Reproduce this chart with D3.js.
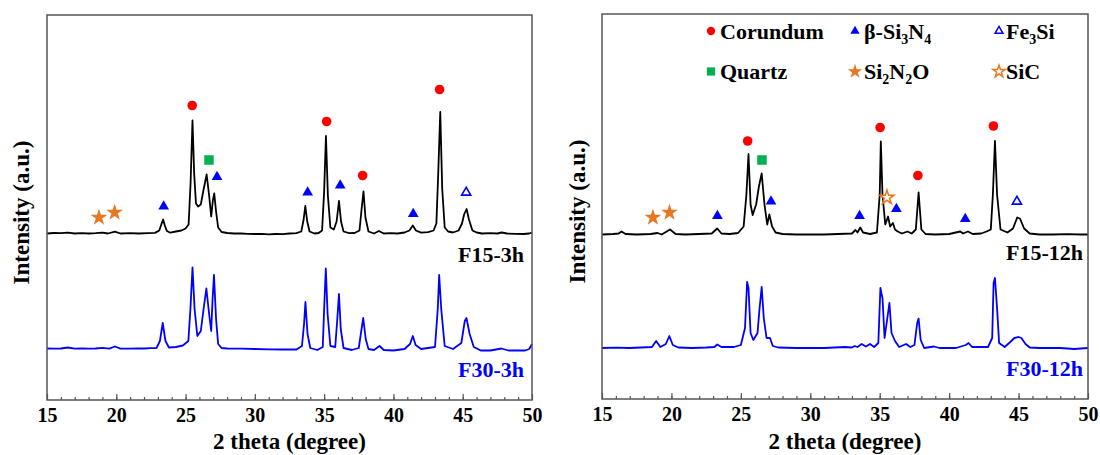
<!DOCTYPE html>
<html>
<head>
<meta charset="utf-8">
<script src="https://cdn.jsdelivr.net/npm/d3@7"></script>
<style>
  body { margin: 0; background: #fff; }
  svg text { font-family: "Liberation Serif", "Times New Roman", serif; font-weight: bold; }
</style>
</head>
<body>
<div id="chart"></div>
<script>
// x axis tick labels (2 theta, degree)
var thetaTicks = [15, 20, 25, 30, 35, 40, 45, 50];

// XRD patterns: [2theta, intensity above own baseline (a.u.)]
var f15_3h = [[15,0],[15.5,0.5],[16,0.3],[16.5,0.8],[17,0],[17.5,0.4],[18,0],[18.5,0.3],[19,0.8],[19.4,0],[19.9,1.8],[20.3,0],[21,0.4],[21.6,0],[22.3,0.3],[22.8,0.6],[23.1,3],[23.25,9],[23.38,14],[23.5,8],[23.65,2.5],[23.9,0.8],[24.3,2],[24.7,3],[25.0,5],[25.22,9],[25.36,50],[25.5,113],[25.62,60],[25.75,30],[25.9,27],[26.1,29],[26.3,44],[26.52,59],[26.7,38],[26.85,17],[26.97,33],[27.07,40],[27.2,22],[27.35,6],[27.6,1.5],[28,0.5],[28.5,0],[29,0],[29.5,-0.3],[30,-0.5],[30.5,-0.3],[31,-0.8],[31.5,-0.5],[32,-0.6],[32.5,0],[33,0.3],[33.35,2],[33.52,14],[33.64,27.5],[33.78,12],[33.95,2],[34.3,0],[34.6,0.5],[34.85,3],[35.0,42],[35.13,97.5],[35.27,38],[35.45,6],[35.7,4],[35.9,12],[36.07,32.5],[36.22,12],[36.4,2],[36.8,0.3],[37.2,0.5],[37.55,3],[37.7,24],[37.84,42],[37.98,16],[38.2,2],[38.6,0],[38.95,2.5],[39.3,0],[39.8,0.3],[40.3,0],[40.8,1],[41.15,3],[41.4,8],[41.62,3],[42,0.8],[42.5,1.3],[42.9,3],[43.1,10],[43.22,55],[43.38,121.5],[43.52,45],[43.7,6],[43.95,2],[44.3,1],[44.7,3],[44.95,10],[45.1,19],[45.28,24.5],[45.45,14],[45.7,3],[46,1],[46.4,0],[47,0.3],[47.5,0],[47.8,1],[48.2,0],[48.8,-0.3],[49.4,-0.5],[49.8,0],[50,1]];

var f30_3h = [[15,0.5],[15.5,0.3],[16,0.5],[16.5,1.5],[17,0.3],[17.5,0.5],[18,0.3],[18.5,0.5],[19,1.2],[19.5,0.3],[19.9,2.5],[20.3,0.3],[21,0.3],[21.5,0.6],[22,0.5],[22.5,0.8],[22.9,1],[23.15,8],[23.35,26],[23.55,8],[23.8,1.5],[24.3,2],[24.8,3.5],[25.2,8],[25.35,40],[25.5,81.5],[25.65,40],[25.85,13],[26.1,18],[26.3,40],[26.5,60.5],[26.7,35],[26.85,18],[26.95,50],[27.05,74],[27.2,30],[27.35,5],[27.6,1],[28,0.5],[29,0.3],[30,0],[31,-0.3],[32,-0.5],[33,-0.5],[33.4,3],[33.55,25],[33.65,47],[33.8,15],[34.0,1],[34.5,-1],[34.9,2],[35.0,40],[35.12,80.5],[35.25,35],[35.45,3],[35.8,2],[35.95,30],[36.07,55],[36.2,20],[36.4,1],[37,-1],[37.5,1],[37.7,20],[37.82,31],[38.0,10],[38.2,0],[38.6,-1],[39.0,3],[39.3,-1],[40,-1.5],[40.8,0],[41.2,5],[41.4,13],[41.6,4],[42,0],[42.5,1],[43,2],[43.2,40],[43.3,74],[43.45,40],[43.7,3],[44.3,0],[44.9,6],[45.15,28],[45.27,31],[45.5,15],[45.8,2],[46.3,-1.5],[47,-1.5],[47.8,0.5],[48.3,-1.5],[49.5,-1.5],[49.8,0],[50,5]];

var f15_12h = [[15,0],[15.8,0.5],[16.2,1],[16.4,3],[16.7,0.5],[17.5,0],[18.5,0.5],[19.0,1.5],[19.3,0],[19.9,5],[20.3,0.5],[21,0],[22,0.5],[22.9,1],[23.3,6],[23.6,1],[24.2,0.5],[24.8,1.5],[25.2,8],[25.4,40],[25.55,80.5],[25.7,30],[25.85,19.5],[26.1,30],[26.3,48],[26.5,61],[26.7,30],[26.9,10],[27.05,20],[27.25,8],[27.5,2],[28,0.5],[29,0],[30,0],[31,0],[32,0.5],[33,1],[33.25,4.5],[33.4,2],[33.6,7],[33.8,2],[34.3,0.5],[34.8,2],[35.0,40],[35.08,93],[35.2,40],[35.4,10],[35.6,18],[35.75,8],[35.95,11.5],[36.1,5],[36.3,3],[36.6,1],[37.0,3],[37.3,1],[37.6,5],[37.8,42],[38.0,5],[38.3,0.5],[39,0],[40,0.5],[40.8,3],[41.0,1],[41.35,3],[41.7,0.5],[42.3,1],[42.7,3],[43.0,5],[43.15,40],[43.3,93.5],[43.45,40],[43.7,5],[44.2,2],[44.6,6],[44.9,17],[45.1,16],[45.4,6],[45.8,1],[46.5,0],[47.5,0],[48.5,0.3],[49.5,0],[50,0]];

var f30_12h = [[15,0],[16,0.3],[17,0],[17.8,0.5],[18.6,1],[18.9,7],[19.2,1],[19.6,4],[19.85,12],[20.1,3],[20.5,0.5],[21.5,0],[22.5,0.5],[23.1,1],[23.3,3.5],[23.6,1],[24.5,1],[25.0,3],[25.3,20],[25.45,66],[25.55,60],[25.7,15],[25.9,8],[26.2,15],[26.35,40],[26.5,61],[26.65,30],[26.85,10],[27.1,10],[27.3,2],[27.7,0.5],[29,0],[31,0],[32.5,1],[33,0.5],[33.2,2],[33.4,1],[33.7,4],[34.0,1.5],[34.3,4],[34.6,1],[34.9,5],[35.05,60],[35.12,55],[35.2,50],[35.35,10],[35.55,30],[35.7,45],[35.85,15],[36.1,7],[36.4,1],[36.9,4],[37.2,1],[37.5,3],[37.7,25],[37.8,29.5],[37.95,8],[38.2,0],[38.9,1.5],[39.3,0],[40.5,0],[41.2,3],[41.4,5],[41.65,1],[42.3,1],[42.8,1],[43.1,10],[43.2,65],[43.3,70],[43.45,40],[43.6,5],[44.0,1],[44.4,6],[44.7,10],[45.0,11],[45.2,10],[45.5,4],[45.8,0.5],[46.5,0],[48,0],[49,-1],[50,0]];

// phase markers on the upper pattern: [phase, 2theta, height]
var marks3h = [["Si2N2O",18.75,16],["Si2N2O",19.88,21],["Si3N4",23.42,27],["Corundum",25.48,128],["Quartz",26.69,73.5],["Si3N4",27.27,56.5],["Si3N4",33.81,41],["Corundum",35.18,112],["Si3N4",36.16,48],["Corundum",37.78,58],["Si3N4",41.43,19.5],["Corundum",43.33,144],["Fe3Si",45.25,41]];
var marks12h = [["Si2N2O",18.67,17],["Si2N2O",19.86,22],["Si3N4",23.31,18.5],["Corundum",25.49,93.5],["Quartz",26.52,74.5],["Si3N4",27.17,33],["Si3N4",33.55,18.5],["Corundum",35.03,107],["SiC",35.52,37],["Si3N4",36.2,25.5],["Corundum",37.75,59],["Si3N4",41.16,15.5],["Corundum",43.19,108.5],["Fe3Si",44.88,33]];

// legend phases, labels as [text, isSubscript] parts
var legendPhases = ["Corundum", "Si3N4", "Fe3Si", "Quartz", "Si2N2O", "SiC"];
var legendLabels = [
  [["Corundum",0]],
  [["\u03b2-Si",0],["3",1],["N",0],["4",1]],
  [["Fe",0],["3",1],["Si",0]],
  [["Quartz",0]],
  [["Si",0],["2",1],["N",0],["2",1],["O",0]],
  [["SiC",0]]
];

var phaseStyle = {
  Corundum: {sym: d3.symbolCircle, size: 72, fill: "#ff0000", stroke: "none"},
  Si3N4:    {sym: d3.symbolTriangle, size: 50, fill: "#0000ff", stroke: "none"},
  Fe3Si:    {sym: d3.symbolTriangle, size: 36, fill: "#fff", stroke: "#0000ff"},
  Quartz:   {sym: d3.symbolSquare, size: 90, fill: "#00b050", stroke: "none"},
  Si2N2O:   {sym: d3.symbolStar, size: 88, fill: "#e87722", stroke: "none"},
  SiC:      {sym: d3.symbolStar, size: 62, fill: "#fff", stroke: "#e87722"}
};

var svg = d3.select("#chart").append("svg")
  .attr("width", 1100)
  .attr("height", 455);

var panels = [
  {left: 47, right: 532, top: 15, bottom: 400, series: [f15_3h, f30_3h], names: ["F15-3h", "F30-3h"],
   offsets: [166.5, 51], marks: marks3h, labelX: 524, labelY: [262, 377], ytitleX: 29},
  {left: 602, right: 1088, top: 14, bottom: 399, series: [f15_12h, f30_12h], names: ["F15-12h", "F30-12h"],
   offsets: [164.5, 51], marks: marks12h, labelX: 1083, labelY: [259.5, 376], ytitleX: 585}
];
var colors = ["#000", "#0000ff"];

panels.forEach(function(p, pi) {
  var x = d3.scaleLinear().domain([15, 50]).range([p.left, p.right]);
  var y = d3.scaleLinear().domain([0, p.bottom - p.top]).range([p.bottom, p.top]);
  var g = svg.append("g");

  // patterns
  p.series.forEach(function(s, i) {
    var line = d3.line()
      .x(function(d) { return x(d[0]); })
      .y(function(d) { return y(d[1] + p.offsets[i]); });
    g.append("path")
      .datum(s)
      .attr("d", line)
      .attr("fill", "none")
      .attr("stroke", colors[i])
      .attr("stroke-width", 1.8)
      .attr("stroke-linejoin", "round");

    g.append("text")
      .attr("x", p.labelX)
      .attr("y", p.labelY[i])
      .attr("text-anchor", "end")
      .attr("font-size", 22)
      .attr("fill", colors[i])
      .text(p.names[i]);
  });

  // phase markers
  g.selectAll(".mark")
    .data(p.marks)
    .enter()
    .append("path")
    .attr("d", function(d) { return d3.symbol().type(phaseStyle[d[0]].sym).size(phaseStyle[d[0]].size)(); })
    .attr("transform", function(d) { return "translate(" + x(d[1]) + "," + y(d[2] + p.offsets[0]) + ")"; })
    .attr("fill", function(d) { return phaseStyle[d[0]].fill; })
    .attr("stroke", function(d) { return phaseStyle[d[0]].stroke; })
    .attr("stroke-width", 1.6);

  // frame
  g.append("rect")
    .attr("x", p.left).attr("y", p.top)
    .attr("width", p.right - p.left).attr("height", p.bottom - p.top)
    .attr("fill", "none").attr("stroke", "#555").attr("stroke-width", 1.5);

  // minor ticks
  var minor = g.append("g")
    .attr("transform", "translate(0," + p.bottom + ")")
    .call(d3.axisBottom(x).tickValues(d3.range(16, 50, 1)).tickSize(-3).tickFormat(""));
  minor.select(".domain").remove();
  minor.selectAll("line").attr("stroke", "#555").attr("stroke-width", 1.2);

  // major ticks + labels
  var major = g.append("g")
    .attr("transform", "translate(0," + p.bottom + ")")
    .call(d3.axisBottom(x).tickValues(thetaTicks).tickSize(-6).tickPadding(8));
  major.select(".domain").remove();
  major.selectAll("line").attr("stroke", "#555").attr("stroke-width", 1.2);
  major.selectAll("text")
    .attr("font-size", 20)
    .attr("font-family", "Liberation Serif")
    .attr("font-weight", "bold")
    .attr("fill", "#000");

  // axis titles
  g.append("text")
    .attr("x", (p.left + p.right) / 2)
    .attr("y", 449)
    .attr("text-anchor", "middle")
    .attr("font-size", 23)
    .text("2 theta (degree)");

  g.append("text")
    .attr("transform", "translate(" + p.ytitleX + "," + ((p.top + p.bottom) / 2 + 5) + ") rotate(-90)")
    .attr("text-anchor", "middle")
    .attr("font-size", 23)
    .text("Intensity (a.u.)");
});

// legend in right panel
var legX = [711, 855, 999], legTextX = [720, 864, 1006], legY = [31, 71.5];
legendPhases.forEach(function(ph, i) {
  var col = i % 3, row = Math.floor(i / 3);
  var st = phaseStyle[ph];
  svg.append("path")
    .attr("d", d3.symbol().type(st.sym).size(st.size * 0.75)())
    .attr("transform", "translate(" + legX[col] + "," + legY[row] + ")")
    .attr("fill", st.fill)
    .attr("stroke", st.stroke)
    .attr("stroke-width", 1.5);
  var t = svg.append("text")
    .attr("x", legTextX[col])
    .attr("y", legY[row] + 7.5)
    .attr("font-size", 22);
  var shifted = false;
  legendLabels[i].forEach(function(part) {
    var ts = t.append("tspan").text(part[0]);
    if (part[1] && !shifted) { ts.attr("dy", 5).attr("font-size", 14); shifted = true; }
    else if (part[1]) { ts.attr("font-size", 14); }
    else if (shifted) { ts.attr("dy", -5); shifted = false; }
  });
});
</script>
</body>
</html>
